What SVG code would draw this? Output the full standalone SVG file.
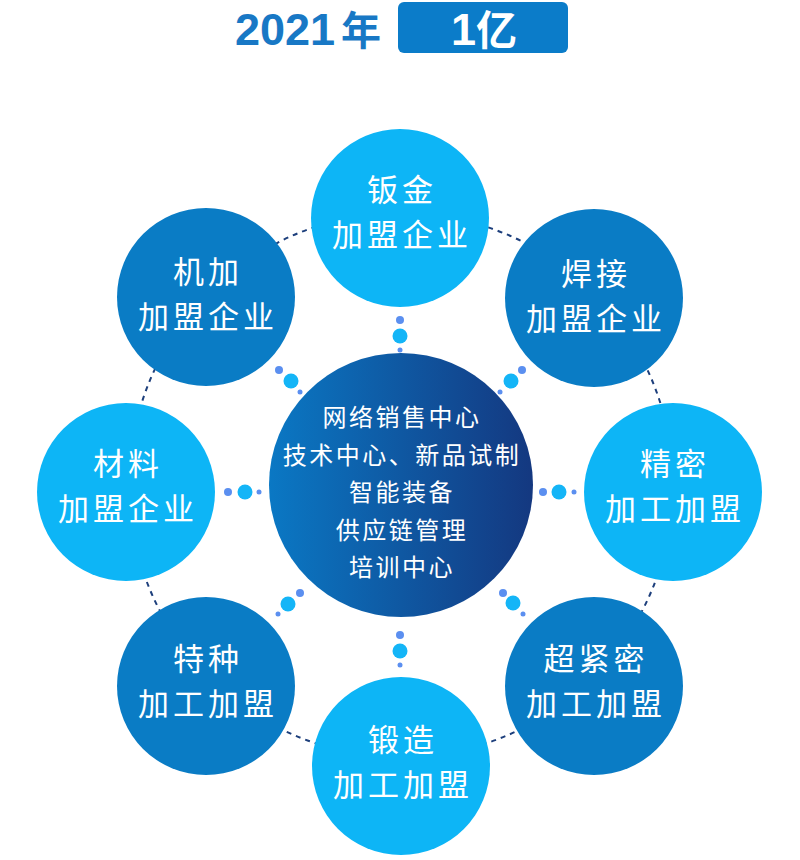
<svg xmlns="http://www.w3.org/2000/svg" width="800" height="860" viewBox="0 0 800 860">
<defs>
<linearGradient id="cg" x1="0" y1="0" x2="1" y2="0">
<stop offset="0" stop-color="#0a78c4"/>
<stop offset="1" stop-color="#143880"/>
</linearGradient>
<style>
.light{fill:#0db5f6}
.mid{fill:#0a7cc5}
.lbl{fill:#ffffff;font-family:"Noto Sans CJK SC","Noto Sans CJK JP",sans-serif;font-size:31px;letter-spacing:4px;text-anchor:middle}
.ctr{fill:#ffffff;font-family:"Noto Sans CJK SC","Noto Sans CJK JP",sans-serif;font-size:24px;letter-spacing:2.5px;text-anchor:middle}
.ring{fill:none;stroke:#1d3f7c;stroke-width:2;stroke-dasharray:5 5}
.d1{fill:#5b8ff0}
.d2{fill:#14b5f7}
.d3{fill:#5b8ff0}
.ttl{font-family:"Liberation Sans","Noto Sans CJK SC",sans-serif;font-weight:bold}
</style>
</defs>
<rect width="800" height="860" fill="#ffffff"/>

<g id="title">
<text class="ttl" x="235" y="45" font-size="45" fill="#1878c5">2021<tspan x="341" font-size="40">年</tspan></text>
<rect x="398" y="2" width="170" height="51" rx="6" fill="#0b7cc9"/>
<text class="ttl" x="484" y="45" font-size="45" fill="#ffffff" text-anchor="middle">1<tspan font-size="41">亿</tspan></text>
</g>

<g id="connectors">
<circle class="ring" cx="401" cy="485" r="272"/>
</g>

<g id="node-banjin">
<circle class="light" cx="400" cy="218" r="89"/>
<text class="lbl"><tspan x="402" y="201">钣金</tspan><tspan x="402" y="246">加盟企业</tspan></text>
</g>
<g id="node-hanjie">
<circle class="mid" cx="594" cy="298" r="89"/>
<text class="lbl"><tspan x="596" y="285">焊接</tspan><tspan x="596" y="330">加盟企业</tspan></text>
</g>
<g id="node-jingmi">
<circle class="light" cx="673" cy="492" r="89"/>
<text class="lbl"><tspan x="675" y="475">精密</tspan><tspan x="675" y="520">加工加盟</tspan></text>
</g>
<g id="node-chaojinmi">
<circle class="mid" cx="594" cy="686" r="89"/>
<text class="lbl"><tspan x="596" y="670">超紧密</tspan><tspan x="596" y="715">加工加盟</tspan></text>
</g>
<g id="node-duanzao">
<circle class="light" cx="401" cy="766" r="89"/>
<text class="lbl"><tspan x="403" y="751">锻造</tspan><tspan x="403" y="796">加工加盟</tspan></text>
</g>
<g id="node-tezhong">
<circle class="mid" cx="206" cy="686" r="89"/>
<text class="lbl"><tspan x="208" y="670">特种</tspan><tspan x="208" y="715">加工加盟</tspan></text>
</g>
<g id="node-cailiao">
<circle class="light" cx="126" cy="492" r="89"/>
<text class="lbl"><tspan x="128" y="475">材料</tspan><tspan x="128" y="520">加盟企业</tspan></text>
</g>
<g id="node-jijia">
<circle class="mid" cx="206" cy="297" r="89"/>
<text class="lbl"><tspan x="208" y="283">机加</tspan><tspan x="208" y="328">加盟企业</tspan></text>
</g>

<g id="node-center">
<circle cx="401" cy="485" r="132" fill="url(#cg)"/>
<text class="ctr"><tspan x="402" y="426">网络销售中心</tspan><tspan x="402" y="464">技术中心、新品试制</tspan><tspan x="402" y="501">智能装备</tspan><tspan x="402" y="539">供应链管理</tspan><tspan x="402" y="576">培训中心</tspan></text>
</g>

<g id="dots">
<circle class="d1" cx="400" cy="320" r="4"/><circle class="d2" cx="400" cy="336" r="7.5"/><circle class="d3" cx="400" cy="350" r="2.5"/>
<circle class="d1" cx="400" cy="635" r="4"/><circle class="d2" cx="400" cy="651" r="7.5"/><circle class="d3" cx="400" cy="665" r="2.5"/>
<circle class="d1" cx="228" cy="492" r="4"/><circle class="d2" cx="245" cy="492" r="7.5"/><circle class="d3" cx="259" cy="492" r="2.5"/>
<circle class="d1" cx="543" cy="492" r="4"/><circle class="d2" cx="559" cy="492" r="7.5"/><circle class="d3" cx="574" cy="492" r="2.5"/>
<circle class="d1" cx="279" cy="370" r="4"/><circle class="d2" cx="291" cy="381" r="7.5"/><circle class="d3" cx="300" cy="392" r="2.5"/>
<circle class="d1" cx="522" cy="370" r="4"/><circle class="d2" cx="511" cy="381" r="7.5"/><circle class="d3" cx="500" cy="392" r="2.5"/>
<circle class="d1" cx="300" cy="593" r="4"/><circle class="d2" cx="288" cy="604" r="7.5"/><circle class="d3" cx="278" cy="614" r="2.5"/>
<circle class="d1" cx="503" cy="593" r="4"/><circle class="d2" cx="513" cy="603" r="7.5"/><circle class="d3" cx="523" cy="614" r="2.5"/>
</g>
</svg>
